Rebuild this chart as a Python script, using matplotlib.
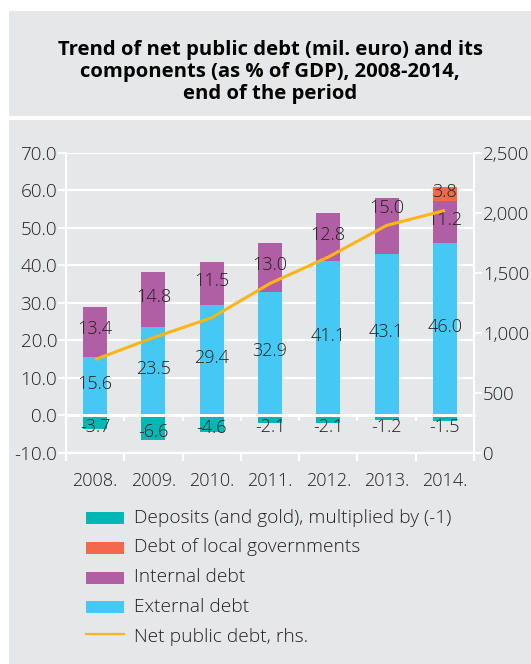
import matplotlib
matplotlib.use("Agg")
import matplotlib.pyplot as plt
from matplotlib.patches import Rectangle
from matplotlib.lines import Line2D
from matplotlib.ticker import FuncFormatter
import numpy as np

# ---- data -------------------------------------------------------------
years = ["2008.", "2009.", "2010.", "2011.", "2012.", "2013.", "2014."]
external_debt = [15.6, 23.5, 29.4, 32.9, 41.1, 43.1, 46.0]
internal_debt = [13.4, 14.8, 11.5, 13.0, 12.8, 15.0, 11.2]
local_debt = [0.0, 0.0, 0.0, 0.0, 0.0, 0.0, 3.8]
deposits = [-3.7, -6.6, -4.6, -2.1, -2.1, -1.2, -1.5]
net_public_debt = [777, 960, 1126, 1412, 1632, 1896, 2021]   # mil. euro, rhs

left_ticks = [-10, 0, 10, 20, 30, 40, 50, 60, 70]
right_ticks = [0, 500, 1000, 1500, 2000, 2500]

# ---- style ------------------------------------------------------------
BG = "#E6E7E8"
TEAL = "#00B7B6"
ORANGE = "#F26A4B"
PURPLE = "#B15FA4"
BLUE = "#46C8F4"
YELLOW = "#FDB515"
TXT = "#231F20"
FONT = ["Open Sans", "DejaVu Sans"]
BODY_WEIGHT = "light"

plt.rcParams["font.family"] = FONT
plt.rcParams["font.weight"] = BODY_WEIGHT
plt.rcParams["axes.unicode_minus"] = False

W, H = 531, 664
fig = plt.figure(figsize=(W / 100, H / 100), dpi=100)
fig.patch.set_facecolor("white")


def fx(px):
    return px / W


def fy(py):
    return 1 - py / H


def pt(px):
    return px * 72 / 100


# grey panels behind the title and the chart
for (x0, y0, x1, y1) in [(9, 11, 531, 116), (9, 120, 531, 664)]:
    fig.patches.append(Rectangle((fx(x0), fy(y1)), fx(x1) - fx(x0), fy(y0) - fy(y1),
                                 transform=fig.transFigure, facecolor=BG,
                                 edgecolor="none", zorder=-10))

fig.text(fx(270), fy(72),
         "Trend of net public debt (mil. euro) and its\n"
         "components (as % of GDP), 2008-2014,\n"
         "end of the period",
         ha="center", va="center", fontsize=14.6, fontweight="bold",
         color="black", linespacing=1.15)

# ---- main axes --------------------------------------------------------
ax = fig.add_axes([fx(66), fy(452.7), fx(474) - fx(66), fy(153) - fy(452.7)])
ax.set_facecolor("none")
ax.set_xlim(-0.5, 6.5)
ax.set_ylim(-10, 70)

x = np.arange(len(years))
width = 0.41
ext = np.array(external_debt)
inn = np.array(internal_debt)
loc = np.array(local_debt)
dep = np.array(deposits)

ax.bar(x, dep, width, color=TEAL, zorder=2)
ax.bar(x, ext, width, color=BLUE, zorder=2)
ax.bar(x, inn, width, bottom=ext, color=PURPLE, zorder=2)
ax.bar(x, loc, width, bottom=ext + inn, color=ORANGE, zorder=2)

# grid and zero line in white
ax.set_yticks(left_ticks)
ax.yaxis.set_major_formatter(FuncFormatter(lambda v, p: f"{v:.1f}"))
ax.grid(axis="y", color="white", lw=1.6, zorder=1)
ax.set_axisbelow(True)
ax.axhline(0, color="white", lw=2, zorder=2.5)

for s in ["left", "right", "bottom"]:
    ax.spines[s].set_color("white")
    ax.spines[s].set_linewidth(1.6)
ax.spines["top"].set_visible(False)

bounds = np.arange(-0.5, 7, 1.0)
ax.set_xticks(bounds)
ax.set_xticklabels([])
ax.set_xticks(x, minor=True)
ax.set_xticklabels(years, minor=True)
ax.tick_params(axis="x", which="major", length=pt(8), width=1.6, color="white")
ax.tick_params(axis="x", which="minor", length=0, pad=pt(19),
               labelsize=13, labelcolor=TXT)
ax.tick_params(axis="y", length=pt(8), width=1.6, color="white",
               labelsize=13.6, labelcolor=TXT, pad=pt(1))

# tick marks hanging from the zero line
zero_axis = ax.secondary_xaxis(10 / 80)
zero_axis.set_xticks(bounds)
zero_axis.set_xticklabels([])
zero_axis.tick_params(length=pt(6), width=1.6, color="white")
zero_axis.spines["bottom"].set_color("white")
zero_axis.spines["bottom"].set_linewidth(2)
zero_axis.set_zorder(2.6)

# ---- right axis: net public debt -------------------------------------
ax2 = ax.twinx()
ax2.set_ylim(0, 2500)
ax2.set_yticks(right_ticks)
ax2.yaxis.set_major_formatter(FuncFormatter(lambda v, p: f"{int(v):,}"))
ax2.tick_params(axis="y", length=pt(8), width=1.6, color="white",
                labelsize=13.4, labelcolor=TXT, pad=pt(1))
for s in ["left", "right", "top", "bottom"]:
    ax2.spines[s].set_visible(False)
ax2.plot(x, net_public_debt, color=YELLOW, lw=2.2, zorder=5,
         solid_capstyle="butt")

# line level expressed in left-axis units, to keep labels clear of it
line_left = np.array(net_public_debt) / 2500 * 80 - 10

# ---- value labels -----------------------------------------------------
lab_kw = dict(ha="center", va="center", fontsize=13, color=TXT, zorder=6)
for i in range(len(years)):
    segments = [(0, ext[i]), (ext[i], inn[i]), (ext[i] + inn[i], loc[i])]
    for base, val in segments:
        if val == 0:
            continue
        yc = base + val / 2
        if abs(line_left[i] - yc) < 2:
            yc += 4
        ax.text(x[i], yc + 0.6, f"{val:.1f}", **lab_kw)
    ax.text(x[i], min(dep[i] / 2 - 1.2, -3.2), f"{dep[i]:.1f}", **lab_kw)

# ---- legend -----------------------------------------------------------
legend_items = [
    ("patch", TEAL, "Deposits (and gold), multiplied by (-1)"),
    ("patch", ORANGE, "Debt of local governments"),
    ("patch", PURPLE, "Internal debt"),
    ("patch", BLUE, "External debt"),
    ("line", YELLOW, "Net public debt, rhs."),
]
row_y = [518.3, 547.5, 577.5, 607.0, 636.5]
for (kind, col, label), yy in zip(legend_items, row_y):
    if kind == "patch":
        fig.patches.append(Rectangle((fx(86), fy(yy + 6)), fx(124) - fx(86),
                                     fy(yy - 6) - fy(yy + 6),
                                     transform=fig.transFigure,
                                     facecolor=col, edgecolor="none"))
    else:
        fig.lines.append(Line2D([fx(86), fx(124)], [fy(yy - 2.5), fy(yy - 2.5)],
                                transform=fig.transFigure, color=col, lw=1.6))
    fig.text(fx(134), fy(yy), label, ha="left", va="center",
             fontsize=13.8, color=TXT)

fig.savefig("out.png", dpi=100, facecolor="white")
